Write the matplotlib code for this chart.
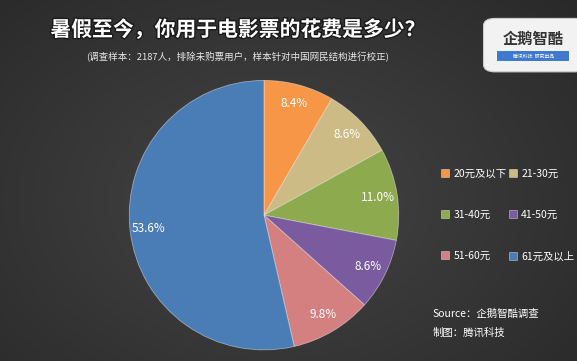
import numpy as np
import matplotlib.pyplot as plt
import matplotlib.patheffects as pe
from matplotlib.patches import FancyBboxPatch

plt.rcParams['font.family'] = ['Noto Sans CJK SC', 'DejaVu Sans']

# Data
labels = ['20元及以下', '21-30元', '31-40元', '41-50元', '51-60元', '61元及以上']
values = [8.4, 8.6, 11.0, 8.6, 9.8, 53.6]
colors = ['#F79646', '#CDBB86', '#8DAB4E', '#7A5BA0', '#D58080', '#4A7CB6']

fig = plt.figure(figsize=(5.77, 3.61), dpi=100)

# dark radial background
bg = fig.add_axes([0, 0, 1, 1])
yy, xx = np.mgrid[0:361, 0:577]
r = np.hypot((xx - 270) / 420, (yy - 200) / 300)
shade = 0.27 - 0.11 * np.clip(r, 0, 1)
bg.imshow(np.dstack([shade, shade, shade]), aspect='auto', extent=[0, 1, 0, 1])
bg.axis('off')

# pie
ax = fig.add_axes([0.4575 - 0.236, 0.404 - 0.377, 0.472, 0.754])
wedges, texts, autotexts = ax.pie(
    values, colors=colors, startangle=90, counterclock=False,
    autopct='%1.1f%%', pctdistance=0.86,
    wedgeprops=dict(edgecolor=(1, 1, 1, 0.45), linewidth=0.6),
    textprops=dict(color='white', fontsize=8.5))
ax.set_xlim(-1.01, 1.01)
ax.set_ylim(-1.01, 1.01)
ax.set_aspect('equal')

# titles
fig.text(0.413, 0.918, '暑假至今，你用于电影票的花费是多少？', ha='center', va='center',
         fontsize=15, fontweight='bold', color='white',
         path_effects=[pe.withStroke(linewidth=2, foreground='#1a1a1a')])
fig.text(0.411, 0.842, '(调查样本：2187人，排除未购票用户，样本针对中国网民结构进行校正)',
         ha='center', va='center', fontsize=6.8, color='#e8e8e8')

# legend, filled row by row
order = [0, 2, 4, 1, 3, 5]
leg = fig.legend([wedges[i] for i in order], [labels[i] for i in order],
                 loc='upper left', bbox_to_anchor=(0.748, 0.559),
                 ncol=2, frameon=False, fontsize=7.5, labelcolor='white',
                 handlelength=0.8, handleheight=0.8, handletextpad=0.4,
                 labelspacing=3.0, columnspacing=0.2)

# source
fig.text(0.75, 0.13, 'Source：企鹅智酷调查', fontsize=7.5, color='white', style='italic',
         ha='left', va='center')
fig.text(0.75, 0.078, '制图：腾讯科技', fontsize=7.5, color='white', style='italic',
         ha='left', va='center')

# logo box
logo = FancyBboxPatch((0.842, 0.805), 0.17, 0.14, boxstyle='round,pad=0.004,rounding_size=0.02',
                      transform=fig.transFigure, facecolor='#f2f2f2', edgecolor='#cccccc',
                      linewidth=0.8)
fig.patches.append(logo)
fig.text(0.925, 0.893, '企鹅智酷', ha='center', va='center', fontsize=11,
         color='#333333', fontweight='bold')
fig.patches.append(FancyBboxPatch((0.862, 0.83), 0.125, 0.028, boxstyle='square,pad=0',
                                  transform=fig.transFigure, facecolor='#3f7ad0',
                                  edgecolor='none'))
fig.text(0.924, 0.844, '腾讯科技  研究出品', ha='center', va='center', fontsize=3.5,
         color='white', style='italic')

fig.savefig('out.png', dpi=100)
